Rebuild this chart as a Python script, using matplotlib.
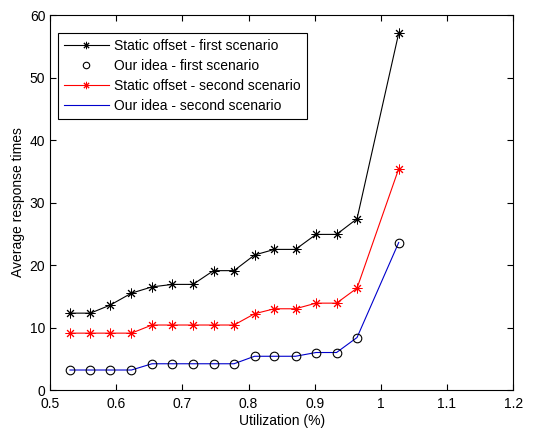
import matplotlib.pyplot as plt
from matplotlib.ticker import FormatStrFormatter

plt.rcParams['font.family'] = ['Liberation Sans', 'DejaVu Sans']

# utilization values
utilization = [0.530, 0.561, 0.591, 0.623, 0.654, 0.685, 0.716, 0.747,
               0.778, 0.809, 0.839, 0.871, 0.902, 0.933, 0.964, 1.027]

static_first = [12.3, 12.3, 13.6, 15.5, 16.5, 16.9, 16.9, 19.1,
                19.1, 21.6, 22.5, 22.5, 24.9, 24.9, 27.4, 57.1]
idea_first = [3.2, 3.2, 3.2, 3.2, 4.2, 4.2, 4.2, 4.2,
              4.2, 5.4, 5.4, 5.4, 6.0, 6.0, 8.4, 23.6]
static_second = [9.1, 9.1, 9.1, 9.1, 10.4, 10.4, 10.4, 10.4,
                 10.4, 12.2, 13.0, 13.0, 13.9, 13.9, 16.3, 35.4]
idea_second = [3.2, 3.2, 3.2, 3.2, 4.2, 4.2, 4.2, 4.2,
               4.2, 5.4, 5.4, 5.4, 6.0, 6.0, 8.4, 23.6]

labels = ['Static offset - first scenario', 'Our idea - first scenario',
          'Static offset - second scenario', 'Our idea - second scenario']

fig = plt.figure(figsize=(5.39, 4.30), dpi=100)
ax = fig.add_axes([0.093, 0.093, 0.859, 0.872])

star = (8, 2, 0)
ax.plot(utilization, static_first, color='k', lw=0.8, marker=star,
        markersize=7, mew=0.7, label=labels[0])
ax.plot(utilization, idea_first, color='k', ls='none', marker='o',
        markersize=6.2, mfc='none', mew=0.8, label=labels[1], zorder=3)
ax.plot(utilization, static_second, color='r', lw=0.8, marker=star,
        markersize=7, mew=0.7, label=labels[2])
ax.plot(utilization, idea_second, color='#0000cc', lw=0.8, label=labels[3])

ax.set_xlim(0.5, 1.2)
ax.set_ylim(0, 60)
ax.set_xticks([0.5, 0.6, 0.7, 0.8, 0.9, 1.0, 1.1, 1.2])
ax.set_yticks([0, 10, 20, 30, 40, 50, 60])
ax.xaxis.set_major_formatter(FormatStrFormatter('%g'))
ax.tick_params(direction='in', top=True, right=True, labelsize=10, length=4)
ax.tick_params(axis='x', pad=5)
ax.set_xlabel('Utilization (%)', fontsize=10, labelpad=2)
ax.set_ylabel('Average response times', fontsize=10, labelpad=3)

leg = ax.legend(loc='upper left', bbox_to_anchor=(0.017, 0.952),
                borderaxespad=0, fontsize=10, handlelength=3.2,
                handletextpad=0.4, fancybox=False, framealpha=1,
                edgecolor='k', labelspacing=0.42, borderpad=0.45,
                markerscale=0.75)
leg.get_frame().set_linewidth(0.8)

fig.savefig('out.png', dpi=100)
